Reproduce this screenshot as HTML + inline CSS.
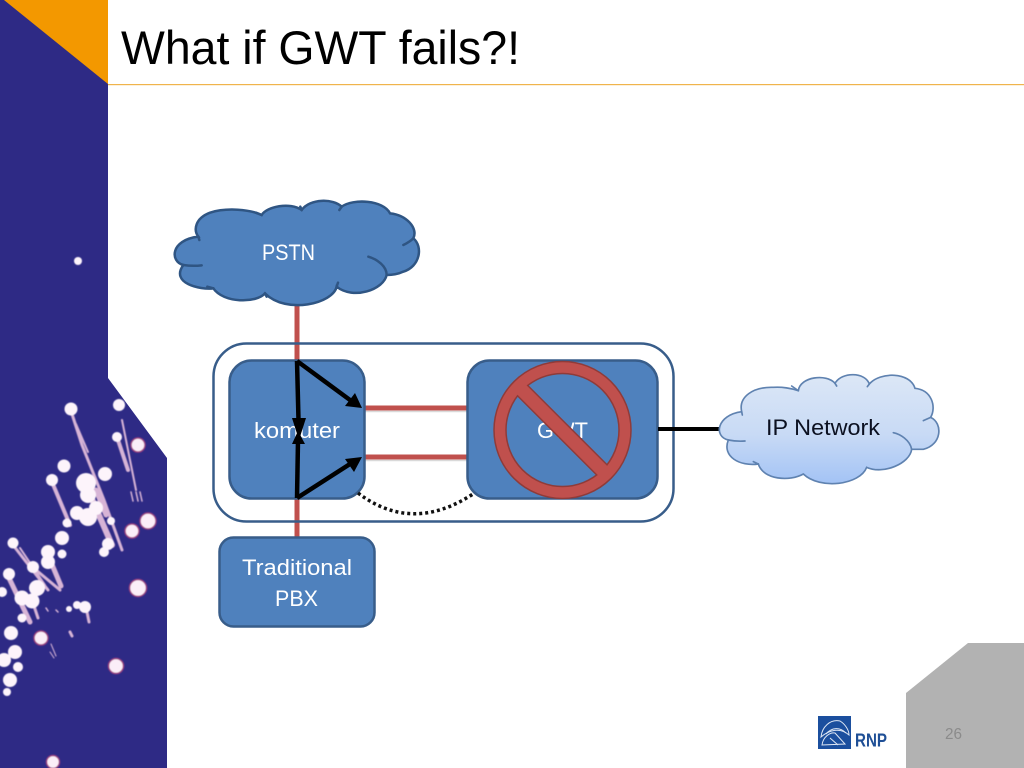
<!DOCTYPE html>
<html>
<head>
<meta charset="utf-8">
<title>What if GWT fails?!</title>
<style>
html,body{margin:0;padding:0;background:#fff;width:1024px;height:768px;overflow:hidden}
svg{display:block}
text{font-family:"Liberation Sans",sans-serif}
</style>
</head>
<body>
<svg xmlns="http://www.w3.org/2000/svg" width="1024" height="768" viewBox="0 0 1024 768">
<defs>
<linearGradient id="ipg" x1="0" y1="0" x2="0" y2="1">
<stop offset="0" stop-color="#dce7f6"/>
<stop offset="0.55" stop-color="#c8daf5"/>
<stop offset="1" stop-color="#a3c3f5"/>
</linearGradient>
<filter id="soft" x="-30%" y="-30%" width="160%" height="160%"><feGaussianBlur stdDeviation="0.6"/></filter>
</defs>

<rect width="1024" height="768" fill="#fff"/>

<!-- Left band -->
<polygon points="0,0 108,0 108,378 167,458 167,768 0,768" fill="#2e2a85"/>
<polygon points="4,0 108,0 108,84" fill="#f39800"/>
<rect x="108" y="84" width="916" height="1.2" fill="#f0b44c"/>

<!-- Sparkles -->
<g filter="url(#soft)">
<g stroke="#d7b4d6" stroke-linecap="round" fill="none">
<path d="M72 414 L82 445 L104 500 L122 550" stroke-width="3"/>
<path d="M76 424 L88 452" stroke-width="2"/>
<path d="M117 437 L128 470" stroke-width="4"/>
<path d="M122 420 L136 490" stroke-width="2"/>
<path d="M52 482 L70 525" stroke-width="4"/>
<path d="M88 490 L112 545" stroke-width="6"/>
<path d="M96 490 L106 515" stroke-width="5"/>
<path d="M13 545 L48 590" stroke-width="3"/>
<path d="M20 548 L45 585" stroke-width="2"/>
<path d="M36 570 L60 590" stroke-width="3"/>
<path d="M48 555 L61 586" stroke-width="5"/>
<path d="M9 578 L30 622" stroke-width="5"/>
<path d="M32 600 L38 618" stroke-width="3"/>
<path d="M87 612 L89 622" stroke-width="3"/>
<path d="M131 492 L133 501 M136 492 L138 501 M140 492 L142 501" stroke-width="1.500"/>
<path d="M51 644 L56 656 M50 652 L54 658" stroke-width="1"/>
<path d="M70 632 L72 636" stroke-width="3"/>
<path d="M46 608 L48 611 M56 610 L58 612" stroke-width="1.500"/>
</g>
<g fill="#fbeef8" stroke="#9c3f80" stroke-width="1.500">
<circle cx="138" cy="445" r="7"/>
<circle cx="148" cy="521" r="8"/>
<circle cx="132" cy="531" r="7"/>
<circle cx="138" cy="588" r="8.500"/>
<circle cx="116" cy="666" r="7.500"/>
<circle cx="41" cy="638" r="7"/>
<circle cx="53" cy="762" r="6.500"/>
</g>
<g fill="#fdf4fb">
<circle cx="78" cy="261" r="4"/>
<circle cx="71" cy="409" r="6.500"/>
<circle cx="119" cy="405" r="6"/>
<circle cx="117" cy="437" r="5"/>
<circle cx="64" cy="466" r="6.500"/>
<circle cx="52" cy="480" r="6"/>
<circle cx="105" cy="474" r="7"/>
<circle cx="86" cy="483" r="10"/>
<circle cx="88" cy="495" r="8"/>
<circle cx="77" cy="513" r="7"/>
<circle cx="88" cy="517" r="9"/>
<circle cx="96" cy="508" r="7"/>
<circle cx="67" cy="523" r="4.500"/>
<circle cx="62" cy="538" r="7"/>
<circle cx="111" cy="521" r="4"/>
<circle cx="108" cy="544" r="6"/>
<circle cx="104" cy="552" r="5"/>
<circle cx="13" cy="543" r="5.500"/>
<circle cx="48" cy="552" r="7"/>
<circle cx="48" cy="562" r="7"/>
<circle cx="62" cy="554" r="4.500"/>
<circle cx="9" cy="574" r="6"/>
<circle cx="33" cy="567" r="6"/>
<circle cx="37" cy="588" r="8"/>
<circle cx="22" cy="598" r="7.500"/>
<circle cx="32" cy="601" r="7.500"/>
<circle cx="2" cy="592" r="5"/>
<circle cx="22" cy="618" r="4.500"/>
<circle cx="85" cy="607" r="6"/>
<circle cx="77" cy="605" r="4"/>
<circle cx="69" cy="609" r="3"/>
<circle cx="11" cy="633" r="7"/>
<circle cx="15" cy="652" r="7"/>
<circle cx="4" cy="660" r="7"/>
<circle cx="18" cy="667" r="5"/>
<circle cx="10" cy="680" r="7"/>
<circle cx="7" cy="692" r="4"/>
</g>
</g>

<!-- Title -->
<text x="121" y="64" font-size="47" fill="#000" textLength="399" lengthAdjust="spacingAndGlyphs">What if GWT fails?!</text>

<!-- Red links -->
<g stroke="#c0504d" stroke-width="5" fill="none">
<path d="M297 304 V362"/>
<path d="M297 496 V539"/>
<path d="M365 408 H468"/>
<path d="M365 457 H468"/>
</g>
<g stroke="#d9d9d9" stroke-width="1.500" fill="none">
<path d="M365 411.500 H467"/>
<path d="M365 460.500 H467"/>
</g>

<!-- Outer container -->
<rect x="213.500" y="343.500" width="460" height="178" rx="33" ry="33" fill="none" stroke="#385d8a" stroke-width="2.500"/>

<!-- Boxes -->
<rect x="229.500" y="360.500" width="135" height="138" rx="22" ry="22" fill="#4f81bd" stroke="#385d8a" stroke-width="2.500"/>
<rect x="467.500" y="360.500" width="190" height="138" rx="22" ry="22" fill="#4f81bd" stroke="#385d8a" stroke-width="2.500"/>
<rect x="219.500" y="537.500" width="155" height="89" rx="14" ry="14" fill="#4f81bd" stroke="#385d8a" stroke-width="2.500"/>

<!-- Labels -->
<text x="254" y="438" font-size="22" fill="#fff" textLength="86" lengthAdjust="spacingAndGlyphs">komuter</text>
<text x="537" y="438" font-size="22" fill="#fff" textLength="51" lengthAdjust="spacingAndGlyphs">GWT</text>
<text x="242" y="575" font-size="22" fill="#fff" textLength="110" lengthAdjust="spacingAndGlyphs">Traditional</text>
<text x="275" y="606" font-size="22" fill="#fff" textLength="43" lengthAdjust="spacingAndGlyphs">PBX</text>

<!-- Black connector to IP network -->
<path d="M658 429 H724" stroke="#000" stroke-width="4" fill="none"/>

<!-- PSTN cloud -->
<g transform="translate(160,190) scale(0.33333)">
<path d="M115 140 C100 120 105 85 150 68 C200 52 270 58 305 75 C320 50 390 35 425 60 C450 25 520 25 545 50 C580 25 670 30 690 70 C740 75 775 115 760 145 C790 170 780 230 730 245 C715 252 695 255 680 255 C670 300 580 330 530 290 C520 340 380 375 315 310 C290 340 190 340 160 295 C120 300 30 280 70 225 C30 215 30 150 115 140 Z" fill="#4f81bd" stroke="#2f5583" stroke-width="7.500"/>
<g fill="none" stroke="#2f5583" stroke-width="7.500" stroke-linecap="round">
<path d="M115 140 L118 150"/>
<path d="M70 225 C90 228 108 228 125 226"/>
<path d="M160 295 L142 290"/>
<path d="M315 310 L320 320"/>
<path d="M530 290 L534 278"/>
<path d="M680 255 C680 228 650 207 625 200"/>
<path d="M760 145 C750 155 740 160 730 165"/>
<path d="M305 75 L288 68"/>
<path d="M425 60 L421 50"/>
<path d="M545 50 L538 60"/>
</g>
</g>
<text x="262" y="260" font-size="22" fill="#fff" textLength="53" lengthAdjust="spacingAndGlyphs">PSTN</text>

<!-- IP cloud -->
<g transform="translate(710,360) scale(0.33333)">
<path d="M95 155 C85 110 130 80 190 82 C215 80 245 85 265 92 C270 50 350 40 375 70 C395 35 465 35 478 72 C510 35 600 35 615 85 C665 90 680 140 662 172 C700 190 695 255 640 268 L605 268 C600 310 520 345 470 322 C450 375 330 390 280 342 C240 365 160 360 145 312 C90 320 35 290 55 240 C10 230 20 165 95 155 Z" fill="url(#ipg)" stroke="#5f82b0" stroke-width="5"/>
<g fill="none" stroke="#5f82b0" stroke-width="5" stroke-linecap="round">
<path d="M55 240 C70 243 90 244 105 243"/>
<path d="M605 268 C600 240 570 222 550 218"/>
<path d="M662 172 L640 182"/>
<path d="M145 312 L130 305"/>
<path d="M265 92 L245 78"/>
<path d="M375 70 L380 78"/>
<path d="M478 72 L472 80"/>
<path d="M95 155 L97 165"/>
</g>
</g>
<text x="766" y="435" font-size="22" fill="#0b1020" textLength="114" lengthAdjust="spacingAndGlyphs">IP Network</text>

<!-- Dotted curve -->
<path d="M358 493 Q412 534 473 494" fill="none" stroke="#111" stroke-width="3.500" stroke-dasharray="3 3"/>

<!-- Black arrows -->
<g fill="none" stroke="#000" stroke-width="4.500">
<path d="M297 361 L298.500 420"/>
<path d="M297 498 L298 440"/>
<path d="M297 361 L350 400"/>
<path d="M297 498 L350 464"/>
</g>
<g fill="#000">
<polygon points="299,440 292,418 306,418"/>
<polygon points="298,431 292,444 305,444"/>
<polygon points="362,408 345,406 355,393"/>
<polygon points="362,457 354,472 345,459"/>
</g>

<!-- No sign -->
<g fill="none">
<circle cx="562.500" cy="430" r="62.500" stroke="#8f3b39" stroke-width="13.500"/>
<path d="M520 388 L605 473" stroke="#8f3b39" stroke-width="16"/>
<circle cx="562.500" cy="430" r="62.500" stroke="#c0504d" stroke-width="10.500"/>
<path d="M518 386 L607 475" stroke="#c0504d" stroke-width="13"/>
</g>

<!-- Bottom right -->
<polygon points="906,693 968,643 1024,643 1024,768 906,768" fill="#b2b2b2"/>
<text x="945" y="739" font-size="16" fill="#8b8b8b" textLength="17" lengthAdjust="spacingAndGlyphs">26</text>

<!-- Logo -->
<rect x="818" y="716" width="33" height="33" fill="#1b4f9e"/>
<g fill="none" stroke="#dfe8f5" stroke-width="1">
<path d="M821 737 C822 727 830 719 840 721 C845 724 849 730 849 735 C840 727 829 730 821 737 Z"/>
<path d="M822 745 C823 737 830 732 835 733 L845 744 Z M826 734 C832 727 840 727 846 733 M830 738 L838 745"/>
</g>
<text x="855" y="746.500" font-size="18" font-weight="bold" fill="#1f4f96" textLength="32" lengthAdjust="spacingAndGlyphs">RNP</text>
</svg>
</body>
</html>
